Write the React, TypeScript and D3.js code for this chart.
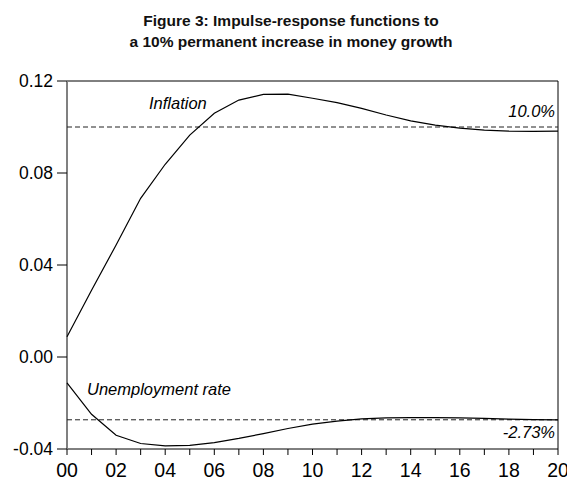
import React from "react";
import * as d3 from "d3";

const years = d3.range(0, 21);
const xTickLabels = ["00", "02", "04", "06", "08", "10", "12", "14", "16", "18", "20"];
const yTicks = [-0.04, 0.0, 0.04, 0.08, 0.12];
const inflation = [0.0088, 0.029, 0.0487, 0.069, 0.0838, 0.0965, 0.106, 0.1117, 0.1142, 0.1143, 0.1125, 0.1106, 0.1081, 0.1052, 0.1027, 0.1008, 0.0995, 0.0986, 0.0982, 0.0981, 0.0982];
const unemployment = [-0.0112, -0.0249, -0.034, -0.0376, -0.0386, -0.0384, -0.0372, -0.0354, -0.0333, -0.0311, -0.0292, -0.0279, -0.0269, -0.0265, -0.0264, -0.0264, -0.0265, -0.0267, -0.027, -0.0272, -0.0273];
const inflationTarget = 0.1;
const unemploymentTarget = -0.0273;
const titleLines = ["Figure 3: Impulse-response functions to", "a 10% permanent increase in money growth"];

const W = 567, H = 482;
const L = 67, R = 558, T = 81, B = 449;
const FONT = "'Liberation Sans', Arial, Helvetica, sans-serif";

const fmt = (t: number) => d3.format(".2f")(t).replace("\u2212", "-");

export default function App() {
  const x = d3.scaleLinear().domain([0, 20]).range([L, R]);
  const y = d3.scaleLinear().domain([-0.04, 0.12]).range([B, T]);
  const line = d3.line<number>().x((_, i) => x(years[i])).y((d) => y(d));
  return (
    <svg width={W} height={H} style={{ position: "absolute", left: 0, top: 0, background: "#fff" }} fontFamily={FONT}>
      <rect x={0} y={0} width={W} height={H} fill="#fff" />
      <text x={291} y={26} textAnchor="middle" fontWeight="bold" fontSize={15.5} fill="#111">{titleLines[0]}</text>
      <text x={291} y={47} textAnchor="middle" fontWeight="bold" fontSize={15.5} fill="#111">{titleLines[1]}</text>

      {/* frame */}
      <line x1={L} x2={R} y1={T} y2={T} stroke="#000" strokeWidth={1} />
      <line x1={R} x2={R} y1={T} y2={B} stroke="#000" strokeWidth={1} />
      <line x1={L} x2={R} y1={B} y2={B} stroke="#000" strokeWidth={1} />
      <line x1={L} x2={L} y1={T} y2={B} stroke="#808080" strokeWidth={2} />

      {/* y ticks */}
      {yTicks.map((t) => (
        <g key={t}>
          <line x1={L - 10} x2={L} y1={y(t)} y2={y(t)} stroke="#000" strokeWidth={1} />
          <text x={53} y={y(t) + 6} textAnchor="end" fontSize={17.5} fill="#000">{fmt(t)}</text>
        </g>
      ))}

      {/* x ticks */}
      {years.map((yr) => (
        <line key={yr} x1={x(yr)} x2={x(yr)} y1={B} y2={B + 6} stroke="#000" strokeWidth={1} />
      ))}
      {xTickLabels.map((lab, i) => (
        <text key={lab} x={x(i * 2)} y={477} textAnchor="middle" fontSize={19.5} fill="#000">{lab}</text>
      ))}

      {/* reference dashed lines */}
      <line x1={L} x2={R} y1={y(inflationTarget)} y2={y(inflationTarget)} stroke="#222" strokeWidth={1} strokeDasharray="5,3" />
      <line x1={L} x2={R} y1={y(unemploymentTarget)} y2={y(unemploymentTarget)} stroke="#222" strokeWidth={1} strokeDasharray="5,3" />

      {/* series */}
      <path d={line(inflation) || ""} fill="none" stroke="#000" strokeWidth={1.2} />
      <path d={line(unemployment) || ""} fill="none" stroke="#000" strokeWidth={1.2} />

      {/* annotations */}
      <text x={149} y={109} fontStyle="italic" fontSize={16.5} fill="#000">Inflation</text>
      <text x={555} y={117} textAnchor="end" fontStyle="italic" fontSize={16.5} fill="#000">10.0%</text>
      <text x={87} y={395} fontStyle="italic" fontSize={16.5} fill="#000">Unemployment rate</text>
      <text x={555} y={438} textAnchor="end" fontStyle="italic" fontSize={16.5} fill="#000">-2.73%</text>
    </svg>
  );
}
